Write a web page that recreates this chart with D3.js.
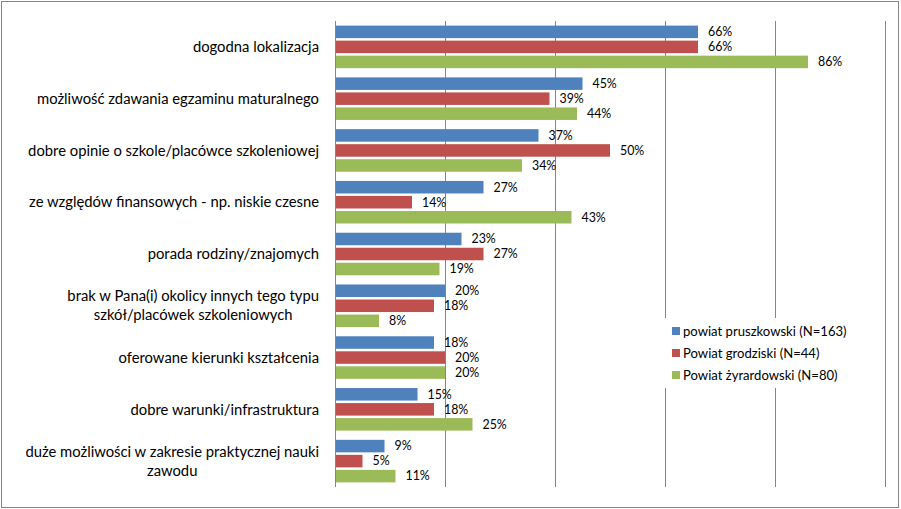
<!DOCTYPE html>
<html><head><meta charset="utf-8">
<script src="https://cdn.jsdelivr.net/npm/d3@7"></script>
<style>body{margin:0;background:#fff}svg{display:block}text{font-family:Lato,"Open Sans",sans-serif}</style>
</head><body>
<svg id="c" width="901" height="509"></svg>
<script>
const categories = [
  ["dogodna lokalizacja"],
  ["możliwość zdawania egzaminu maturalnego"],
  ["dobre opinie o szkole/placówce szkoleniowej"],
  ["ze względów finansowych - np. niskie czesne"],
  ["porada rodziny/znajomych"],
  ["brak w Pana(i) okolicy innych tego typu", "szkół/placówek szkoleniowych"],
  ["oferowane kierunki kształcenia"],
  ["dobre warunki/infrastruktura"],
  ["duże możliwości w zakresie praktycznej nauki", "zawodu"]
];
const seriesNames = ["powiat pruszkowski (N=163)", "Powiat grodziski (N=44)", "Powiat żyrardowski (N=80)"];
const pruszkowski = [66, 45, 37, 27, 23, 20, 18, 15, 9];
const grodziski   = [66, 39, 50, 14, 27, 18, 20, 18, 5];
const zyrardowski = [86, 44, 34, 43, 19, 8, 20, 25, 11];
const tickValues = [0, 20, 40, 60, 80, 100];
const colors = ["#4F81BD", "#C0504D", "#9BBB59"];

const series = [pruszkowski, grodziski, zyrardowski];
const svg = d3.select("#c");
const FS_CAT = 14.8, FS_LAB = 12.4, FS_LEG = 13.1;

svg.append("rect").attr("x", 1.5).attr("y", 1.5).attr("width", 897).attr("height", 506)
  .attr("fill", "#fff").attr("stroke", "#868686").attr("stroke-width", 1);

const x = d3.scaleLinear().domain([0, 100]).range([335, 885]);
const y = d3.scaleBand().domain(d3.range(categories.length)).range([21, 487])
  .paddingInner(0.178).paddingOuter(0.089);
const ys = d3.scaleBand().domain(d3.range(series.length)).range([0, y.bandwidth()]).paddingInner(1/6);

// gridlines
const grid = svg.append("g").attr("transform", "translate(0,487)")
  .call(d3.axisBottom(x).tickValues(tickValues).tickSize(-466).tickFormat(""));
grid.select(".domain").remove();
grid.selectAll(".tick line").attr("stroke", "#868686");

// bars
series.forEach((vals, si) => {
  const g = svg.append("g");
  g.selectAll("rect").data(vals).join("rect")
    .attr("x", x(0) + 1)
    .attr("y", (d, i) => y(i) + ys(si))
    .attr("width", d => x(d) - x(0) - 1)
    .attr("height", ys.bandwidth())
    .attr("fill", colors[si]);
  g.selectAll("text").data(vals).join("text")
    .attr("x", d => x(d) + 10)
    .attr("y", (d, i) => y(i) + ys(si) + ys.bandwidth() / 2)
    .attr("dy", "0.35em")
    .attr("font-size", FS_LAB).attr("fill", "#000")
    .text(d => d + "%");
});

// category labels
categories.forEach((lines, i) => {
  const cy = y(i) + y.bandwidth() / 2;
  const t = svg.append("text").attr("font-size", FS_CAT).attr("fill", "#000").attr("text-anchor", "middle");
  const n = lines.length;
  const spans = lines.map((l, k) => t.append("tspan").attr("y", cy + (k - (n - 1) / 2) * 19).attr("dy", "0.35em").text(l));
  const w = d3.max(spans, s => s.node().getComputedTextLength());
  spans.forEach(s => s.attr("x", 319 - w / 2));
});

// legend
const lg = svg.append("g");
lg.append("rect").attr("x", 662).attr("y", 318).attr("width", 218).attr("height", 70).attr("fill", "#fff");
seriesNames.forEach((name, i) => {
  const ly = 331 + i * 22;
  lg.append("rect").attr("x", 672).attr("y", ly - 4).attr("width", 8).attr("height", 8).attr("fill", colors[i]);
  lg.append("text").attr("x", 683).attr("y", ly).attr("dy", "0.35em").attr("font-size", FS_LEG).attr("fill", "#000").text(name);
});
</script>
</body></html>
